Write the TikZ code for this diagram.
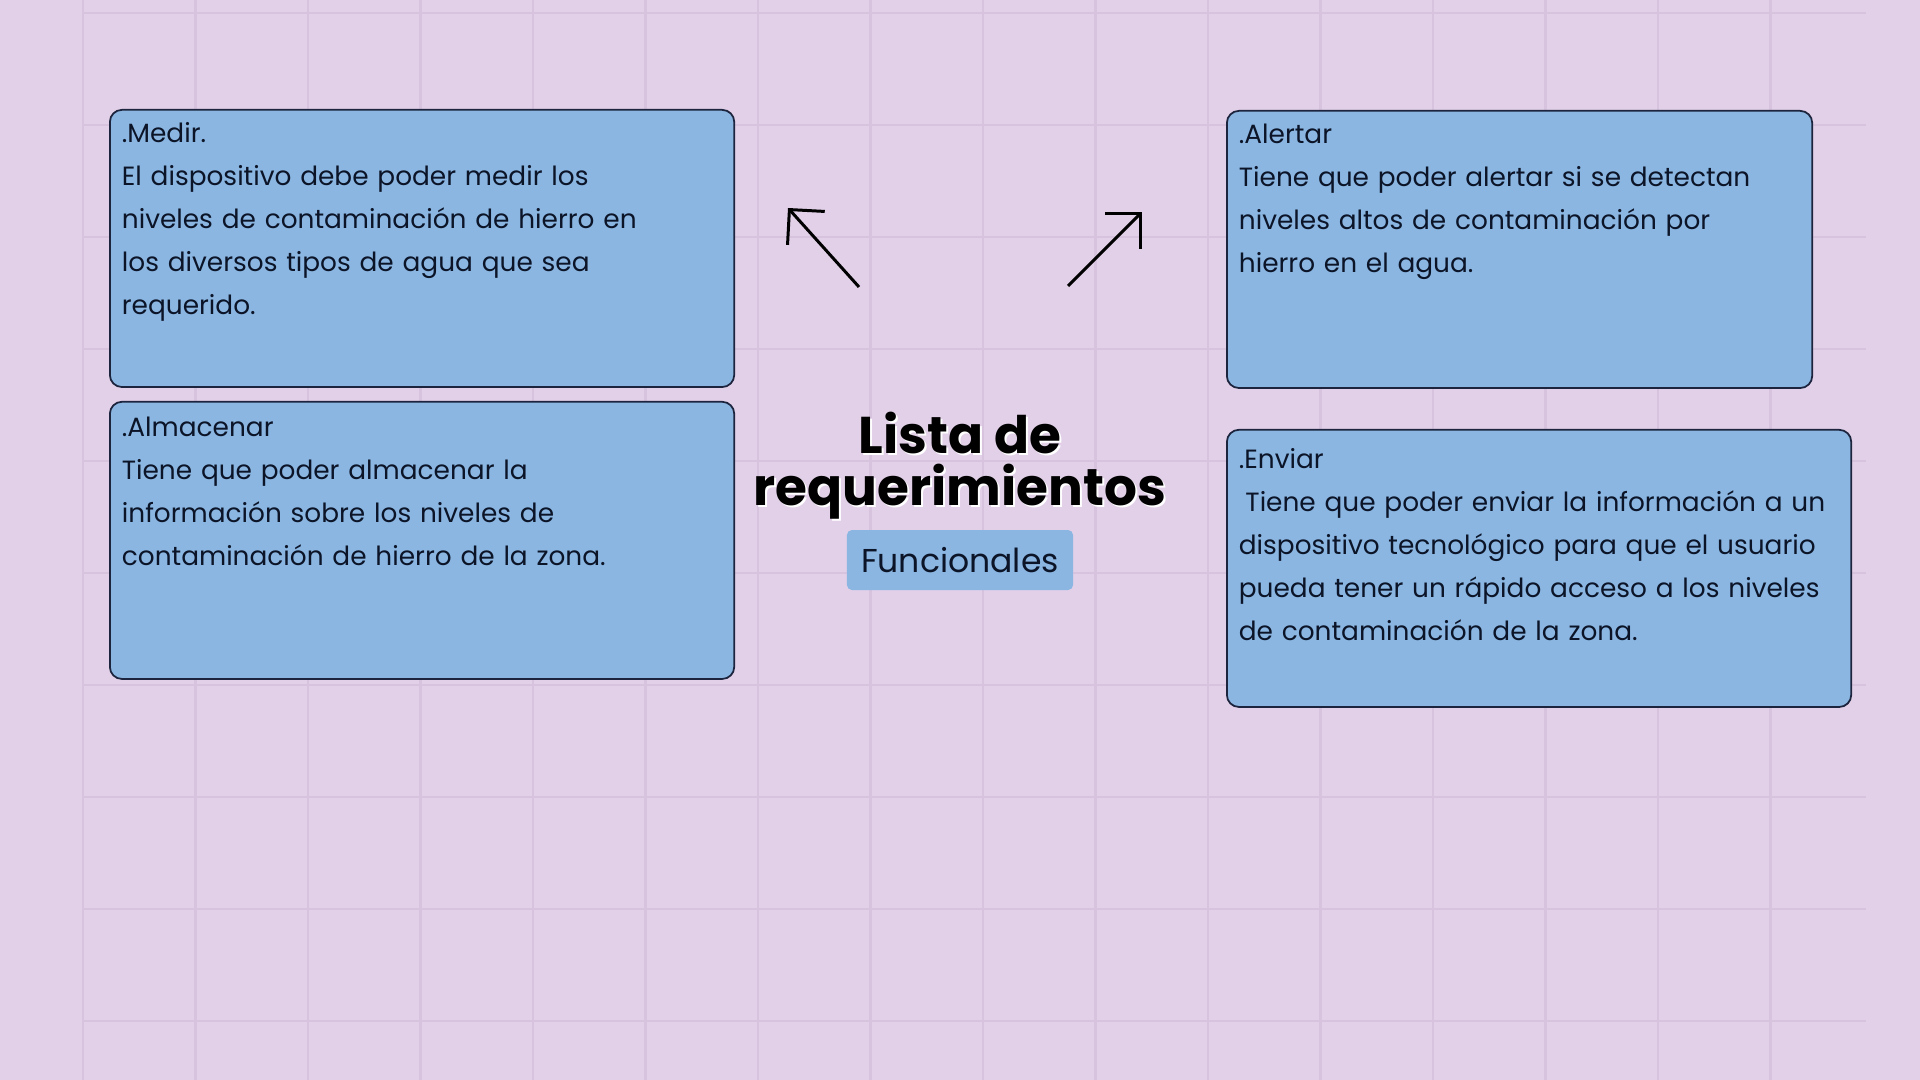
\documentclass[tikz,border=0pt]{standalone}
\usepackage{fontspec}
\setmainfont{Poppins}
\usetikzlibrary{positioning,arrows.meta}
\definecolor{fondo}{RGB}{226,208,232}
\definecolor{rejilla}{RGB}{216,195,223}
\definecolor{azul}{RGB}{138,182,225}
\definecolor{borde}{RGB}{28,36,62}
\definecolor{tinta}{RGB}{12,20,40}
\tikzset{
  req/.style={draw=borde,fill=azul,line width=0.5pt,rounded corners=0.12cm,
    anchor=north west,align=left,text width=#1,inner xsep=0.12cm,inner ysep=0.12cm,
    text height=0.21cm,text depth=2.32cm,text=tinta,
    font=\fontsize{7.5pt}{12.2pt}\selectfont},
  titulo/.style={align=center,inner sep=0pt,font=\fontsize{14.7pt}{14.8pt}\selectfont\bfseries},
  etiqueta/.style={fill=azul,rounded corners=0.05cm,minimum width=2.26cm,minimum height=0.6cm,
    inner sep=0pt,text=tinta,font=\fontsize{9.4pt}{11pt}\selectfont},
  flecha/.style={line width=0.85pt,-{Straight Barb[length=0.25cm,width=0.5cm]}},
  linea/.style={rejilla,line width=0.025cm}
}
\begin{document}
\begin{tikzpicture}[x=0.01cm,y=-0.01cm]
\fill[fondo] (0,0) rectangle (1920,1080);
\useasboundingbox (0,0) rectangle (1920,1080);
\foreach \i in {0,...,15}
  \draw[linea] ({83+112.5*\i},0) -- ({83+112.5*\i},1080);
\foreach \j in {0,...,9}
  \draw[linea] (83,{13+112*\j}) -- (1866,{13+112*\j});

\node[req=6.0cm] (medir) at (109,109)
  {.Medir.\\El dispositivo debe poder medir los\\niveles de contaminación de hierro en\\los diversos tipos de agua que sea\\requerido.};
\node[req=6.0cm,text height=0.23cm,text depth=2.30cm,below=0.13cm of medir] (almacenar)
  {.Almacenar\\Tiene que poder almacenar la\\información sobre los niveles de\\contaminación de hierro de la zona.};
\node[req=5.61cm] (alertar) at (1226,110)
  {.Alertar\\Tiene que poder alertar si se detectan\\niveles altos de contaminación por\\hierro en el agua.};
\node[req=6.0cm,text height=0.27cm,text depth=2.26cm,below=0.40cm of alertar.south west,anchor=north west] (enviar)
  {.Enviar\\\hspace*{0.25em}Tiene que poder enviar la información a un\\dispositivo tecnológico para que el usuario\\pueda tener un rápido acceso a los niveles\\de contaminación de la zona.};

\node[titulo,text=white] (sombra) at (962,468) {Lista de\\requerimientos};
\node[titulo] (titulo) at (960,466) {Lista de\\requerimientos};
\node[etiqueta,below=0.09cm of titulo] (funcionales) {Funcionales};

\coordinate (izqA) at (859,287);
\coordinate (izqB) at (788,208);
\coordinate (derA) at (1068,286);
\coordinate (derB) at (1142,212);
\draw[flecha] (izqA) -- (izqB);
\draw[flecha] (derA) -- (derB);
\end{tikzpicture}
\end{document}
